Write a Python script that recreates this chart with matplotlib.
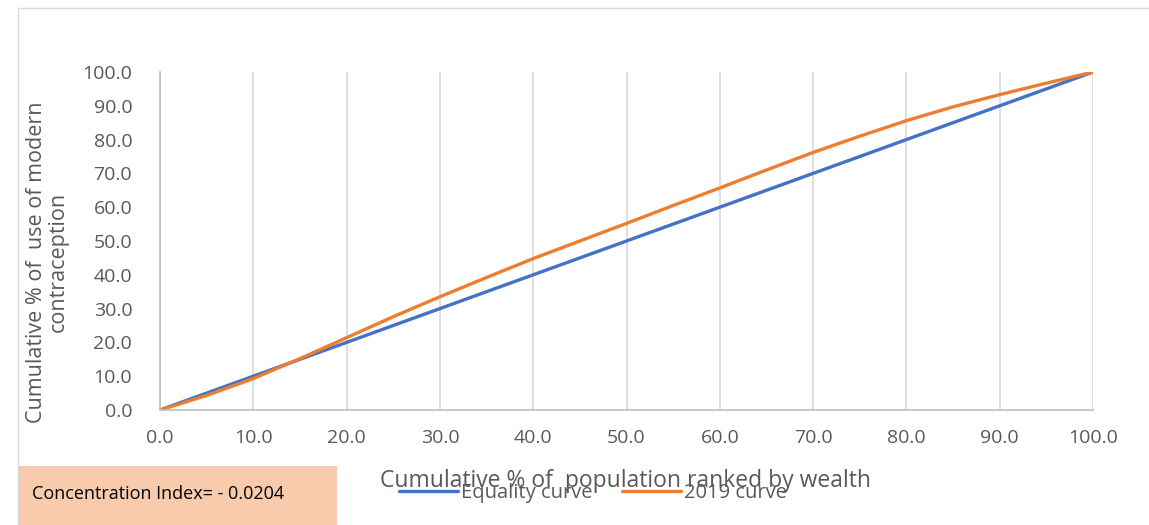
import matplotlib.pyplot as plt
from matplotlib.patches import Rectangle

# Data
pop_pct = [0, 5, 10, 15, 20, 25, 30, 35, 40, 45, 50, 55, 60, 65, 70, 75, 80, 85, 90, 95, 100]
equality = [0, 5, 10, 15, 20, 25, 30, 35, 40, 45, 50, 55, 60, 65, 70, 75, 80, 85, 90, 95, 100]
curve_2019 = [0, 4.3, 9.3, 15.2, 21.4, 27.6, 33.5, 39.2, 44.8, 50.0, 55.2, 60.5,
              65.7, 71.0, 76.2, 81.0, 85.6, 89.7, 93.3, 96.7, 100]
ticks = [0, 10, 20, 30, 40, 50, 60, 70, 80, 90, 100]

BLUE = "#4472C4"
ORANGE = "#ED7D31"
GREY = "#595959"

plt.rcParams['font.family'] = ['Open Sans', 'DejaVu Sans']

fig = plt.figure(figsize=(11.49, 5.25), dpi=100)
ax = fig.add_axes([160 / 1149, 1 - 410 / 525, (1093 - 160) / 1149, (410 - 72) / 525])

ax.plot(pop_pct, equality, color=BLUE, lw=2.4, label="Equality curve", solid_capstyle='round')
ax.plot(pop_pct, curve_2019, color=ORANGE, lw=2.4, label="2019 curve", solid_capstyle='round')

ax.set_xlim(0, 100)
ax.set_ylim(0, 100)
ax.set_xticks(ticks)
ax.set_yticks(ticks)
ax.set_xticklabels([f"{t:.1f}" for t in ticks])
ax.set_yticklabels([f"{t:.1f}" for t in ticks])
ax.tick_params(length=0, labelsize=14, colors=GREY)
ax.tick_params(axis='x', pad=14)
ax.tick_params(axis='y', pad=20)
ax.grid(axis='x', color="#D9D9D9", lw=1.2)
ax.set_axisbelow(True)
for side in ['top', 'right']:
    ax.spines[side].set_visible(False)
for side in ['left', 'bottom']:
    ax.spines[side].set_color("#BFBFBF")
    ax.spines[side].set_linewidth(1.2)

fig.text(626 / 1149, 1 - 481 / 525, "Cumulative % of  population ranked by wealth",
         ha='center', va='center', fontsize=16.5, color=GREY)
fig.text(47 / 1149, 1 - 262 / 525, "Cumulative % of  use of modern\ncontraception",
         ha='center', va='center', rotation=90, fontsize=15.5, color=GREY, linespacing=1.05)

leg = fig.legend(loc='center', bbox_to_anchor=(593 / 1149, 1 - 493 / 525), ncol=2,
                 frameon=False, fontsize=14.5, handlelength=2.9, columnspacing=1.5,
                 handletextpad=0.15)
for t in leg.get_texts():
    t.set_color(GREY)

# Concentration index box
fig.patches.append(Rectangle((18 / 1149, 0), (337 - 18) / 1149, 1 - 466 / 525,
                             transform=fig.transFigure, facecolor="#F8CBAD",
                             edgecolor='none', zorder=0))
fig.text(32 / 1149, 1 - 494 / 525, "Concentration Index= - 0.0204",
         ha='left', va='center', fontsize=13, color='black')

# chart frame
fig.patches.append(Rectangle((18 / 1149, -0.01), 1.2, 1 - 8 / 525 + 0.01,
                             transform=fig.transFigure, facecolor='none',
                             edgecolor="#D9D9D9", lw=1, zorder=0))

fig.savefig("out.png", dpi=100)
